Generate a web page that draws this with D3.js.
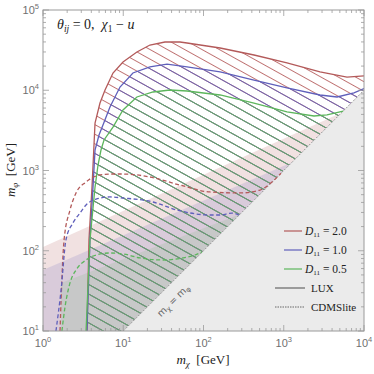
<!DOCTYPE html>
<html><head><meta charset="utf-8">
<script src="https://cdn.jsdelivr.net/npm/d3@7"></script>
<style>body{margin:0;background:#fff}svg{display:block}</style>
</head><body>
<script>
// ---- data (GeV) ----
const xDecades = [0,1,2,3,4];          // 10^0 .. 10^4
const yDecades = [1,2,3,4,5];          // 10^1 .. 10^5
// LUX exclusion contours [m_chi, m_phi]
const luxRed = [[3.53,10],[3.74,136],[4.08,622],[4.45,3910],[5.13,6930],[5.93,10070],[7.45,16400],[9.93,22500],[14.8,30000],[21.5,36600],[33.1,39900],[50.9,39900],[62.3,38800],[161,33600],[426,27500],[1097,21900],[2830,16900],[6140,14600],[10000,15100]];
const luxBlue = [[3.53,10],[3.85,136],[4.2,622],[4.45,1800],[4.99,2770],[5.59,3690],[6.83,6180],[9.11,10960],[13.2,16400],[21.5,19500],[35.1,21200],[62.3,19500],[161,16900],[426,13400],[1097,10700],[2830,8730],[4610,8240],[7500,9250],[10000,10500]];
const luxGreen = [[3.44,10],[3.85,136],[4.45,622],[4.85,1170],[5.28,1800],[5.76,2400],[7.45,3480],[9.93,5680],[14.8,8240],[23.5,9510],[38.3,10070],[62.3,9790],[161,8730],[426,6930],[1097,5360],[2380,4780],[3460,4920],[5500,5500]];
// CDMSlite contours
const cdmsRed = [[1.63,10],[1.68,24.3],[1.83,136],[2.17,322],[2.58,525],[3.44,719],[4.58,854],[6.83,904],[9.93,904],[21.5,830],[50.9,659],[120,540],[285,525],[506,571],[714,719],[925,925]];
const cdmsBlue = [[1.45,10],[1.68,32.4],[1.93,136],[2.36,222],[2.89,295],[3.44,372],[4.58,441],[6.83,468],[9.93,454],[23.5,405],[46.7,322],[120,279],[161,279],[226,295],[277,277]];
const cdmsGreen = [[1.72,10],[1.88,19.9],[2.17,39.7],[2.58,57.5],[3.44,76.7],[4.58,88.5],[6.83,93.8],[9.93,91.2],[16.2,81.3],[31.3,76.7],[55.5,81.3],[78.3,88.5],[95.8,96.4]];
// shaded bands: upper edges
const bandRed = [[1,10],[1,111],[5230,5230]];
const bandBlue = [[1,10],[1,57.5],[1270,1270]];
const bandGreen = [[1.68,10],[1.68,39.7],[285,285]];
const legendLabels = ["2.0","1.0","0.5"];
const legendStyles = ["LUX","CDMSlite"];
const colors = {red:"#b35a5a", blue:"#5f5fbb", green:"#5cb65c"};

// ---- chart ----
const W=374,H=374, L=43,R=364,T=10,B=331;
const svg=d3.select("body").append("svg").attr("width",W).attr("height",H)
  .style("font-family","'Liberation Serif',serif");
const x=d3.scaleLog().domain([1,1e4]).range([L,R]);
const y=d3.scaleLog().domain([10,1e5]).range([B,T]);
const line=d3.line().x(d=>x(d[0])).y(d=>y(d[1]));
const smooth=d3.line().x(d=>x(d[0])).y(d=>y(d[1])).curve(d3.curveMonotoneX);

const defs=svg.append("defs");
defs.append("clipPath").attr("id","plotclip").append("rect").attr("x",L).attr("y",T).attr("width",R-L).attr("height",B-T);
function hatch(id,col){
  const p=defs.append("pattern").attr("id",id).attr("patternUnits","userSpaceOnUse")
    .attr("width",40).attr("height",8.4).attr("patternTransform","rotate(29)");
  p.append("rect").attr("x",0).attr("y",3.8).attr("width",40).attr("height",0.8).attr("fill",col);
}
hatch("hR",colors.red);hatch("hB",colors.blue);hatch("hG",colors.green);

const g=svg.append("g").attr("clip-path","url(#plotclip)");
function bandPoly(b){return b.concat([[10,10]]);}
g.append("path").attr("d",line(bandPoly(bandRed))+"Z").attr("fill",colors.red).attr("fill-opacity",0.18);
g.append("path").attr("d",line(bandPoly(bandBlue))+"Z").attr("fill",colors.blue).attr("fill-opacity",0.16);
g.append("path").attr("d",line(bandPoly(bandGreen))+"Z").attr("fill",colors.green).attr("fill-opacity",0.14);

// hatched LUX regions
function region(c){
  const last=c[c.length-1];
  let pts=c.slice();
  if(last[0]>=1e4) pts.push([1e4,1e4]);
  pts.push([10,10]);
  return line(pts)+"Z";
}
g.append("path").attr("d",region(luxRed)).attr("fill","url(#hR)");
g.append("path").attr("d",region(luxBlue)).attr("fill","url(#hB)");
g.append("path").attr("d",region(luxGreen)).attr("fill","url(#hG)");

// gray triangle m_phi < m_chi
g.append("path").attr("d",line([[10,10],[1e4,1e4],[1e4,10]])+"Z").attr("fill","#ebebeb");
g.append("path").attr("d",line([[10,10],[1e4,1e4]])).attr("stroke","#8a8a8a").attr("stroke-width",0.9)
  .attr("stroke-dasharray","2,1.5").attr("fill","none");

// curves
[[luxRed,colors.red],[luxBlue,colors.blue],[luxGreen,colors.green]].forEach(([c,col])=>{
  g.append("path").attr("d",line(c)).attr("fill","none").attr("stroke",col).attr("stroke-width",1.3);
});
[[cdmsRed,colors.red],[cdmsBlue,colors.blue],[cdmsGreen,colors.green]].forEach(([c,col])=>{
  g.append("path").attr("d",smooth(c)).attr("fill","none").attr("stroke",col)
    .attr("stroke-width",1.3).attr("stroke-dasharray","4,2.5");
});

// diagonal label
svg.append("text").attr("transform",`translate(${x(40)+4},${y(40)+20}) rotate(-45)`)
  .attr("text-anchor","middle").attr("fill","#666").attr("font-size",9.5)
  .attr("font-family","'DejaVu Sans',sans-serif")
  .html('m<tspan font-size="7" dy="2">χ</tspan><tspan dy="-2"> = m</tspan><tspan font-size="7" dy="2">φ</tspan>');

// frame
svg.append("rect").attr("x",L).attr("y",T).attr("width",R-L).attr("height",B-T)
  .attr("fill","none").attr("stroke","#9a9a9a").attr("stroke-width",1);

// ticks
const tk=svg.append("g").attr("stroke","#9a9a9a").attr("stroke-width",0.8);
xDecades.forEach((k,i)=>{
  const vals=[Math.pow(10,k)];
  if(i<xDecades.length-1) for(let j=2;j<10;j++) vals.push(j*Math.pow(10,k));
  vals.forEach((v,vi)=>{
    const len=vi===0?6:3, px=x(v);
    tk.append("line").attr("x1",px).attr("x2",px).attr("y1",B).attr("y2",B-len);
    tk.append("line").attr("x1",px).attr("x2",px).attr("y1",T).attr("y2",T+len);
  });
});
yDecades.forEach((k,i)=>{
  const vals=[Math.pow(10,k)];
  if(i<yDecades.length-1) for(let j=2;j<10;j++) vals.push(j*Math.pow(10,k));
  vals.forEach((v,vi)=>{
    const len=vi===0?6:3, py=y(v);
    tk.append("line").attr("y1",py).attr("y2",py).attr("x1",L).attr("x2",L+len);
    tk.append("line").attr("y1",py).attr("y2",py).attr("x1",R).attr("x2",R-len);
  });
});
// tick labels
const tl=svg.append("g").attr("fill","#707070").attr("font-family","'Liberation Sans',sans-serif").attr("font-size",11);
xDecades.forEach(k=>{
  tl.append("text").attr("x",x(Math.pow(10,k))).attr("y",347).attr("text-anchor","middle")
    .html(`10<tspan font-size="7.5" dy="-5">${k}</tspan>`);
});
yDecades.forEach(k=>{
  tl.append("text").attr("x",39).attr("y",y(Math.pow(10,k))+4).attr("text-anchor","end")
    .html(`10<tspan font-size="7.5" dy="-5">${k}</tspan>`);
});

// axis labels
svg.append("text").attr("x",203).attr("y",364).attr("text-anchor","middle").attr("font-size",13).attr("fill","#222")
  .html('<tspan font-style="italic">m</tspan><tspan font-size="9" dy="3" font-style="italic">χ</tspan><tspan dy="-3" xml:space="preserve">  [GeV]</tspan>');
svg.append("text").attr("transform","translate(15,170) rotate(-90)").attr("text-anchor","middle").attr("font-size",13).attr("fill","#222")
  .html('<tspan font-style="italic">m</tspan><tspan font-size="9" dy="3" font-style="italic">φ</tspan><tspan dy="-3" xml:space="preserve">  [GeV]</tspan>');

// title
svg.append("text").attr("x",57).attr("y",29).attr("font-size",14).attr("fill","#222").attr("xml:space","preserve")
  .html('<tspan font-style="italic">θ</tspan><tspan font-size="9.5" dy="3" font-style="italic">ij</tspan><tspan dy="-3"> = 0,  </tspan><tspan font-style="italic">χ</tspan><tspan font-size="9.5" dy="3">1</tspan><tspan dy="-3"> − </tspan><tspan font-style="italic">u</tspan>');

// legend
const lg=svg.append("g");
const lcols=[colors.red,colors.blue,colors.green];
legendLabels.forEach((lab,i)=>{
  const yy=231+i*19;
  lg.append("line").attr("x1",284).attr("x2",302).attr("y1",yy).attr("y2",yy).attr("stroke",lcols[i]).attr("stroke-width",1.2);
  lg.append("text").attr("x",305).attr("y",yy+4).attr("font-size",11.5).attr("fill","#222")
    .html(`<tspan font-style="italic">D</tspan><tspan font-size="7" dy="2">11</tspan><tspan dy="-2"> = ${lab}</tspan>`);
});
legendStyles.forEach((lab,i)=>{
  const yy=288+i*19;
  lg.append("line").attr("x1",275).attr("x2",305).attr("y1",yy).attr("y2",yy).attr("stroke","#666")
    .attr("stroke-width",i===0?1.2:1).attr("stroke-dasharray",i===0?null:"1.5,1");
  lg.append("text").attr("x",311).attr("y",yy+4).attr("font-size",11).attr("fill","#222").text(lab);
});
</script>
</body></html>
